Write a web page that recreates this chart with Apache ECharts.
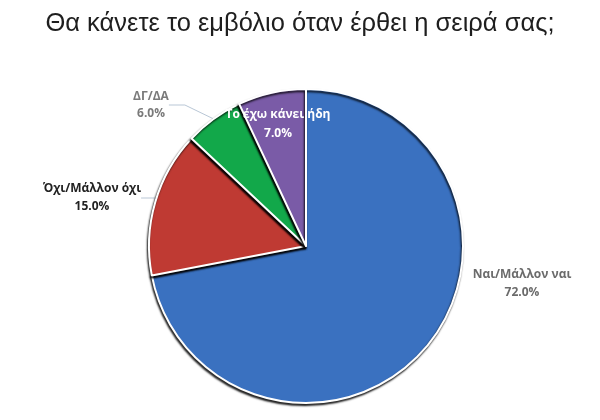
<!DOCTYPE html>
<html>
<head>
<meta charset="utf-8">
<script src="https://cdn.jsdelivr.net/npm/echarts@6/dist/echarts.min.js"></script>
<style>html,body{margin:0;padding:0;background:#fff}#c{width:600px;height:420px}</style>
</head>
<body>
<div id="c"></div>
<script>
var titleText = 'Θα κάνετε το εμβόλιο όταν έρθει η σειρά σας;';
var categories = ['Ναι/Μάλλον ναι', 'Όχι/Μάλλον όχι', 'ΔΓ/ΔΑ', 'Το έχω κάνει ήδη'];
var values = [72.0, 15.0, 6.0, 7.0];
var colors = ['#3a71c0', '#bf3a33', '#12a84a', '#7a5ba7'];

var chart = echarts.init(document.getElementById('c'), null, {renderer: 'canvas'});

var labelStyles = [
  {position: 'outside', color: '#6b6b6b', fontWeight: 'bold', fontSize: 12, lineHeight: 18},
  {position: 'outside', color: '#222', fontWeight: 'bold', fontSize: 12, lineHeight: 18},
  {position: 'outside', color: '#7a7a7a', fontWeight: 'bold', fontSize: 12, lineHeight: 17},
  {position: 'inside', color: '#ffffff', fontWeight: 'bold', fontSize: 12, lineHeight: 19}
];
var labelPos = [[522, 284], [92, 198], [151, 105], [278, 124]];

var data = categories.map(function (name, i) {
  return {
    name: name,
    value: values[i],
    itemStyle: {color: colors[i]},
    label: labelStyles[i],
    labelLine: {show: i === 1 || i === 2, length: 8, length2: 16, lineStyle: {color: '#b9c7d6', width: 1}}
  };
});

chart.setOption({
  backgroundColor: '#fff',
  animation: false,
  title: {
    text: titleText,
    left: 'center',
    top: 6,
    textStyle: {fontFamily: 'Liberation Sans, Arial, sans-serif', fontSize: 25.5, fontWeight: 'normal', color: '#1e1e1e'}
  },
  series: [{
    type: 'pie',
    center: [306, 246],
    radius: [0, 157],
    startAngle: 90,
    clockwise: true,
    avoidLabelOverlap: false,
    label: {
      fontFamily: 'Open Sans, Liberation Sans, sans-serif',
      formatter: function (p) { return p.name + '\n' + p.value.toFixed(1) + '%'; },
      align: 'center'
    },
    labelLayout: function (params) {
      var p = labelPos[params.dataIndex];
      return {x: p[0], y: p[1], align: 'center', verticalAlign: 'middle'};
    },
    itemStyle: {
      borderColor: '#ffffff',
      borderWidth: 2,
      shadowColor: 'rgba(0,0,0,0.85)',
      shadowBlur: 2,
      shadowOffsetX: -1,
      shadowOffsetY: 2
    },
    emphasis: {disabled: true},
    data: data
  }]
});
</script>
</body>
</html>
